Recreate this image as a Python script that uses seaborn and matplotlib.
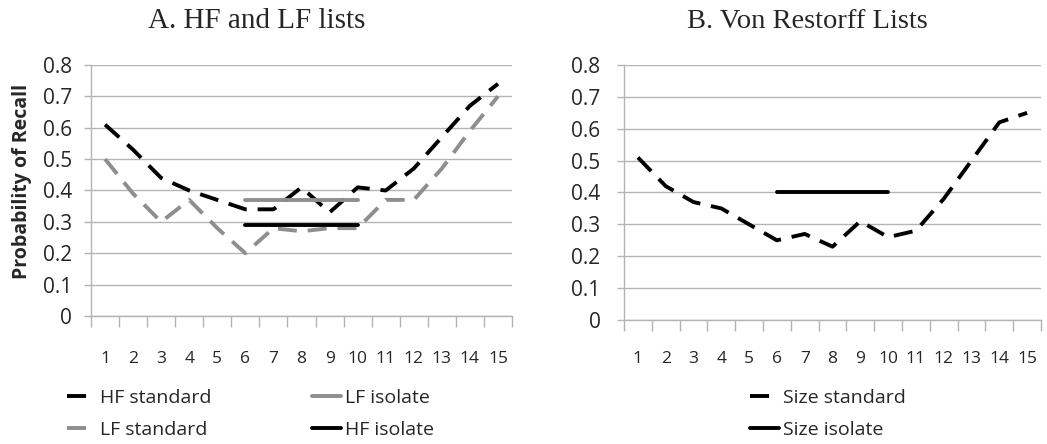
import numpy as np
import pandas as pd
import seaborn as sns
import matplotlib.pyplot as plt

# serial positions and recall probabilities
positions = list(range(1, 16))
hf_standard = [0.61, 0.53, 0.44, 0.40, 0.37, 0.34, 0.34, 0.41, 0.33, 0.41, 0.40, 0.47, 0.57, 0.67, 0.74]
lf_standard = [0.50, 0.39, 0.30, 0.37, 0.28, 0.20, 0.28, 0.27, 0.28, 0.28, 0.37, 0.37, 0.47, 0.59, 0.70]
isolate_positions = [6, 7, 8, 9, 10]
lf_isolate = [0.37, 0.37, 0.37, 0.37, 0.37]
hf_isolate = [0.29, 0.29, 0.29, 0.29, 0.29]

size_standard = [0.51, 0.42, 0.37, 0.35, 0.30, 0.25, 0.27, 0.23, 0.31, 0.26, 0.28, 0.38, 0.50, 0.62, 0.65]
size_isolate = [0.40, 0.40, 0.40, 0.40, 0.40]

y_ticks = [0, 0.1, 0.2, 0.3, 0.4, 0.5, 0.6, 0.7, 0.8]
y_tick_labels = ["0", "0.1", "0.2", "0.3", "0.4", "0.5", "0.6", "0.7", "0.8"]
x_tick_labels = [str(p) for p in positions]

sns.set_theme(style="white")
plt.rcParams['font.family'] = ['Open Sans', 'DejaVu Sans']

BLACK = "#000000"
GRAY = "#8e8e8e"
GRID = "#b4b4b4"
LW = 2.8
DASH = (0, (4.9, 2.8))

fig = plt.figure(figsize=(10.47, 4.44), dpi=100)
W, H = 1047, 444
ax1 = fig.add_axes([91 / W, 1 - 316 / H, 421 / W, 251 / H])
ax2 = fig.add_axes([624 / W, 1 - 320 / H, 417 / W, 255 / H])


def style_axis(ax, ypad, xpad):
    ax.set_xlim(0.5, 15.5)
    ax.set_ylim(0, 0.8)
    ax.set_yticks(y_ticks)
    ax.set_yticklabels(y_tick_labels, fontsize=15)
    ax.set_xticks(np.arange(0.5, 16, 1))
    ax.set_xticklabels([])
    ax.set_xticks(positions, minor=True)
    ax.set_xticklabels(x_tick_labels, minor=True, fontsize=12.5)
    ax.tick_params(axis="x", which="major", length=8, width=1, color=GRID, direction="out", bottom=True)
    ax.tick_params(axis="x", which="minor", length=0, pad=xpad, bottom=True)
    ax.tick_params(axis="y", length=5, width=1, color=GRID, direction="out", pad=ypad, left=True)
    ax.yaxis.grid(True, color=GRID, linewidth=1)
    ax.xaxis.grid(False)
    for s in ["top", "right"]:
        ax.spines[s].set_visible(False)
    for s in ["left", "bottom"]:
        ax.spines[s].set_color(GRID)
        ax.spines[s].set_linewidth(1)
    ax.set_xlabel("")
    ax.set_ylabel("")


# panel A
sns.lineplot(x=positions, y=hf_standard, ax=ax1, color=BLACK, linewidth=LW, linestyle=DASH, label="HF standard")
sns.lineplot(x=positions, y=lf_standard, ax=ax1, color=GRAY, linewidth=LW, linestyle=DASH, label="LF standard")
sns.lineplot(x=isolate_positions, y=lf_isolate, ax=ax1, color=GRAY, linewidth=LW, label="LF isolate")
sns.lineplot(x=isolate_positions, y=hf_isolate, ax=ax1, color=BLACK, linewidth=LW, label="HF isolate")
ax1.get_legend().remove()
style_axis(ax1, ypad=8.5, xpad=25)

# panel B
sns.lineplot(x=positions, y=size_standard, ax=ax2, color=BLACK, linewidth=LW, linestyle=DASH, label="Size standard")
sns.lineplot(x=isolate_positions, y=size_isolate, ax=ax2, color=BLACK, linewidth=LW, label="Size isolate")
ax2.get_legend().remove()
style_axis(ax2, ypad=12, xpad=22)

# legends below each panel
leg_kw = dict(frameon=False, fontsize=14, handlelength=1.48, handletextpad=0.2,
              labelspacing=0.72, borderpad=0, borderaxespad=0, loc="upper left")
h1, l1 = ax1.get_legend_handles_labels()
fig.legend(h1, l1, ncol=2, bbox_to_anchor=(67 / W, 1 - 389 / H), columnspacing=5.2, **leg_kw)
h2, l2 = ax2.get_legend_handles_labels()
fig.legend(h2, l2, ncol=1, bbox_to_anchor=(750 / W, 1 - 389 / H), **leg_kw)

# titles in a Times-like serif, centred over each chart area
fig.text(257 / W, 1 - 28 / H, "A. HF and LF lists", family="Liberation Serif",
         fontsize=21, ha="center", va="baseline")
fig.text(807 / W, 1 - 28 / H, "B. Von Restorff Lists", family="Liberation Serif",
         fontsize=20.5, ha="center", va="baseline")
fig.text(22 / W, 1 - 181 / H, "Probability of Recall", fontsize=14, fontweight="bold",
         rotation=90, ha="center", va="center")

fig.savefig("out.png", dpi=100)
